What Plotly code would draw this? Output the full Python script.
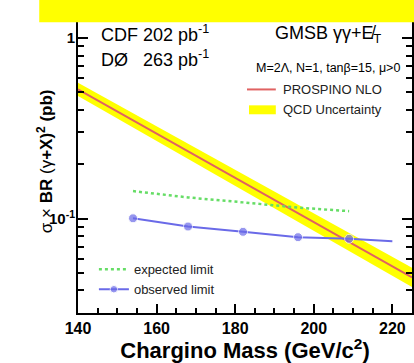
import numpy as np
import plotly.graph_objects as go

# PROSPINO NLO cross section and QCD uncertainty band
mass_theory = [140, 160, 180, 200, 220, 225]
sigma_theory = [0.52, 0.296, 0.168, 0.0958, 0.0545, 0.0473]
band_low = [0.478, 0.270, 0.152, 0.0862, 0.0485, 0.0418]
band_high = [0.565, 0.325, 0.186, 0.1065, 0.0612, 0.0535]

# limits
mass_limit = [154, 168, 182, 196, 209]
expected_limit = [0.142, 0.131, 0.123, 0.115, 0.110]
mass_obs = [154, 168, 182, 196, 209, 220]
observed_limit = [0.1004, 0.0904, 0.0845, 0.0789, 0.0773, 0.0750]
obs_marker_size = [9, 9, 9, 9, 9, 0]

x_ticks = [140, 160, 180, 200, 220]

FONT = "Liberation Sans, Arial, sans-serif"
W, H = 414, 363
L, R, T, B = 78, 0, 0, 50
RED = "#e06262"
YEL = "#ffff00"

fig = go.Figure()
fig.add_trace(go.Scatter(x=mass_theory, y=band_low, mode="lines",
                         line=dict(width=0, color=YEL), showlegend=False,
                         hoverinfo="skip"))
fig.add_trace(go.Scatter(x=mass_theory, y=band_high, mode="lines",
                         line=dict(width=0, color=YEL), fill="tonexty",
                         fillcolor=YEL, name="QCD Uncertainty", showlegend=False))
fig.add_trace(go.Scatter(x=mass_theory, y=sigma_theory, mode="lines",
                         line=dict(width=2, color=RED),
                         name="PROSPINO NLO", showlegend=False))
fig.add_trace(go.Scatter(x=mass_limit, y=expected_limit, mode="lines",
                         line=dict(width=2.5, color="#66dd66", dash="dot"),
                         name="expected limit", legendgroup="a"))
fig.add_trace(go.Scatter(x=mass_obs, y=observed_limit, mode="lines+markers",
                         line=dict(width=2, color="#6a6ae8"),
                         marker=dict(size=obs_marker_size, color="#6a6ae8"),
                         name="observed limit", legendgroup="b"))

ylo = np.log10(0.03)
ytop = ylo + 313 / 181.7

major_y = [0.1, 1]
minor_y = [v * 10.0**e for e in (-2, -1, 0) for v in range(2, 10)]

fig.update_xaxes(range=[140, 225], showline=True, linewidth=2, linecolor="black",
                 mirror="ticks", ticks="inside", ticklen=9, tickwidth=1.5,
                 tickcolor="black", tickvals=x_ticks,
                 ticktext=[f"<b>{v}</b>" for v in x_ticks],
                 tickfont=dict(family=FONT, size=16, color="black"),
                 minor=dict(dtick=5, ticks="inside", ticklen=5, tickwidth=1.5,
                            tickcolor="black"),
                 showgrid=False, zeroline=False,
                 title=dict(text="<b>Chargino Mass (GeV/c<sup>2</sup>)</b>",
                            font=dict(family=FONT, size=22, color="black"),
                            standoff=3))
fig.update_yaxes(type="log", range=[ylo, ytop], showline=True, linewidth=2,
                 linecolor="black", mirror="ticks", ticks="inside", ticklen=10,
                 tickwidth=1.5, tickcolor="black",
                 tickvals=major_y, ticktext=["<b>10<sup>-1</sup></b>", "<b>1</b>"],
                 tickfont=dict(family=FONT, size=15, color="black"),
                 ticklabelstandoff=-2,
                 minor=dict(tickvals=minor_y, ticks="inside", ticklen=6,
                            tickwidth=1.5, tickcolor="black"),
                 showgrid=False, zeroline=False)


def px(xp):
    return (xp - L) / (W - L - R)


def py(yp):
    return (H - B - yp) / (H - B - T)


def ann(text, x, y, size, xanchor="left", color="black", angle=0):
    return dict(text=text, xref="paper", yref="paper", x=px(x), y=py(y),
                xanchor=xanchor, yanchor="middle", showarrow=False,
                textangle=angle,
                font=dict(family=FONT, size=size, color=color))


fig.update_layout(
    width=W, height=H, margin=dict(l=L, r=R, t=T, b=B),
    paper_bgcolor="white", plot_bgcolor="white",
    legend=dict(x=px(94), y=py(254), xanchor="left", yanchor="top",
                bgcolor="rgba(0,0,0,0)", itemwidth=30, tracegroupgap=4,
                traceorder="normal",
                font=dict(family=FONT, size=13, color="#222")),
    shapes=[
        # legend swatches for theory curve
        dict(type="line", xref="paper", yref="paper", x0=px(248), x1=px(277),
             y0=py(88), y1=py(88), line=dict(color=RED, width=2)),
        dict(type="rect", xref="paper", yref="paper", x0=px(250), x1=px(277),
             y0=py(113), y1=py(104), fillcolor=YEL, line=dict(width=0)),
        # yellow banner over the top
        dict(type="rect", xref="paper", yref="paper", x0=px(39), x1=1.01,
             y0=py(20.5), y1=1.01, fillcolor=YEL, line=dict(width=0),
             layer="above"),
    ],
    annotations=[
        ann("PROSPINO NLO", 282, 88, 13, color="#222"),
        ann("QCD Uncertainty", 282, 108, 13, color="#222"),
        ann("CDF 202 pb<sup>-1</sup>", 99, 32, 18),
        ann("DØ   263 pb<sup>-1</sup>", 99, 57, 18),
        ann("GMSB γγ+E̸<sub>T</sub>", 386, 33, 18, xanchor="right"),
        ann("M=2Λ, N=1, tanβ=15, μ>0", 404, 66, 12.5, xanchor="right"),
        ann("σ × <b>BR</b> (γ<b>+X)<sup>2</sup> (pb)</b>", 45, 160, 17,
            xanchor="center", angle=-90),
    ],
)

fig.write_html("out.html")
